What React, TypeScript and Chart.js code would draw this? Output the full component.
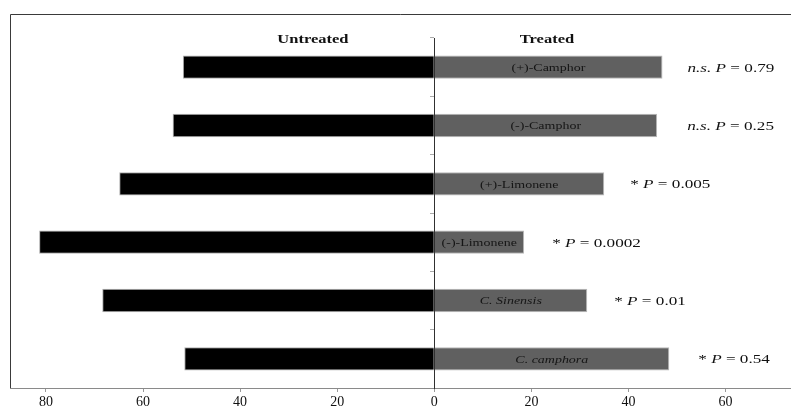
import React, { useEffect, useRef } from 'react';
import { Chart, registerables } from 'chart.js';

Chart.register(...registerables);

const categories = ['(+)-Camphor', '(-)-Camphor', '(+)-Limonene', '(-)-Limonene', 'C. Sinensis', 'C. camphora'];
const italicCategory = [false, false, false, false, true, true];
const untreated = [51.8, 53.9, 64.9, 81.4, 68.4, 51.5];
const treated = [47.0, 45.9, 35.0, 18.5, 31.5, 48.4];
const sigMarks = ['n.s.', 'n.s.', '*', '*', '*', '*'];
const pValues = ['0.79', '0.25', '0.005', '0.0002', '0.01', '0.54'];
const xTicks = [-80, -60, -40, -20, 0, 20, 40, 60];
const headers = [
  { text: 'Untreated', at: -25 },
  { text: 'Treated', at: 23.2 },
];

const STRETCH = 1.27;
const SERIF = '"Liberation Serif", "DejaVu Serif", serif';
const P_GAP = [25, 30, 26, 28, 27, 29];

function drawStretched(ctx: CanvasRenderingContext2D, text: string, x: number, y: number, align: 'left' | 'center') {
  const w = ctx.measureText(text).width * STRETCH;
  const left = align === 'center' ? x - w / 2 : x;
  ctx.save();
  ctx.translate(left, y);
  ctx.scale(STRETCH, 1);
  ctx.textAlign = 'left';
  ctx.fillText(text, 0, 0);
  ctx.restore();
  return w;
}

const decorPlugin = {
  id: 'decor',
  beforeDraw(chart: any) {
    const ctx = chart.ctx as CanvasRenderingContext2D;
    const area = chart.chartArea;
    ctx.save();
    ctx.strokeStyle = '#3a3a3a';
    ctx.lineWidth = 1;
    ctx.beginPath();
    ctx.moveTo(area.left + 0.5, area.bottom);
    ctx.lineTo(area.left + 0.5, 14.5);
    ctx.lineTo(chart.width, 14.5);
    ctx.stroke();
    ctx.restore();
  },
  afterDatasetsDraw(chart: any) {
    const ctx = chart.ctx as CanvasRenderingContext2D;
    const xs = chart.scales.x;
    const ys = chart.scales.y;
    ctx.save();
    ctx.textBaseline = 'middle';
    ctx.fillStyle = '#111';
    // headers
    ctx.font = `bold 13px ${SERIF}`;
    headers.forEach((h) => drawStretched(ctx, h.text, xs.getPixelForValue(h.at), 40, 'center'));
    // labels in treated bars + p values
    categories.forEach((c, i) => {
      const y = ys.getPixelForValue(i);
      const x0 = xs.getPixelForValue(0);
      const x1 = xs.getPixelForValue(treated[i]);
      ctx.fillStyle = '#151515';
      ctx.font = `${italicCategory[i] ? 'italic ' : ''}11px ${SERIF}`;
      drawStretched(ctx, c, (x0 + x1) / 2, y + 1, 'center');
      // p-value annotation
      ctx.fillStyle = '#111';
      let x = x1 + P_GAP[i];
      const parts: [string, boolean][] = sigMarks[i] === '*'
        ? [['* ', false], ['P', true], [' = ' + pValues[i], false]]
        : [['n.s. ', true], ['P', true], [' = ' + pValues[i], false]];
      parts.forEach(([t, it]) => {
        ctx.font = `${it ? 'italic ' : ''}13.5px ${SERIF}`;
        x += drawStretched(ctx, t, x, y + 1, 'left');
      });
    });
    ctx.restore();
  },
};

export default function App() {
  const ref = useRef<HTMLCanvasElement | null>(null);
  useEffect(() => {
    if (!ref.current) return;
    const chart = new Chart(ref.current, {
      type: 'bar',
      data: {
        labels: categories,
        datasets: [
          {
            label: 'Untreated',
            data: untreated.map((v) => -v),
            backgroundColor: '#000000',
            borderColor: '#b0b0b0',
            borderWidth: 1,
            borderSkipped: 'start',
          },
          {
            label: 'Treated',
            data: treated,
            backgroundColor: '#606060',
            borderColor: '#b8b8b8',
            borderWidth: 1,
            borderSkipped: 'start',
          },
        ],
      },
      options: {
        indexAxis: 'y',
        animation: false,
        responsive: true,
        maintainAspectRatio: false,
        layout: { padding: { left: 10, top: 38, right: 0, bottom: 0 } },
        datasets: { bar: { barPercentage: 0.4, categoryPercentage: 1.0 } },
        plugins: { legend: { display: false }, tooltip: { enabled: false } },
        scales: {
          x: {
            type: 'linear',
            stacked: true,
            min: -87.4,
            max: 73.47,
            afterBuildTicks: (scale: any) => {
              scale.ticks = xTicks.map((v) => ({ value: v }));
            },
            afterFit: (scale: any) => {
              scale.height = 20;
            },
            grid: {
              drawOnChartArea: false,
              drawTicks: true,
              tickLength: 4,
              color: '#999',
            },
            border: { display: true, color: '#8a8a8a', width: 1 },
            ticks: {
              padding: 2,
              color: '#111',
              font: { family: SERIF, size: 14 },
              callback: (v: any) => String(Math.abs(Number(v))),
              maxRotation: 0,
              autoSkip: false,
            },
          },
          y: {
            type: 'category',
            stacked: true,
            position: { x: 0 } as any,
            afterFit: (scale: any) => {
              scale.width = 0;
            },
            grid: {
              drawOnChartArea: false,
              drawTicks: true,
              tickLength: 4,
              color: '#aaa',
              offset: true,
            },
            border: { display: true, color: '#303030', width: 1 },
            ticks: { display: false },
          },
        },
      },
      plugins: [decorPlugin],
    });
    return () => chart.destroy();
  }, []);
  return (
    <div style={{ position: 'fixed', left: 0, top: 0, width: 791, height: 408, background: '#fff' }}>
      <canvas ref={ref} />
    </div>
  );
}
